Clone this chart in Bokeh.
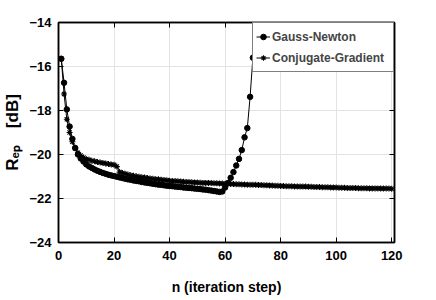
from bokeh.plotting import figure
from bokeh.models import Range1d, LinearAxis, FixedTicker, Legend
from bokeh.embed import file_html
from bokeh.resources import INLINE

# ---- data ----
gn_n = list(range(1, 72))
gn_r = [-15.65, -16.74, -17.95, -18.73, -19.29, -19.70, -20.00, -20.18, -20.32, -20.45,
        -20.54, -20.61, -20.68, -20.74, -20.79, -20.84, -20.88, -20.92, -20.95, -20.98,
        -21.01, -21.04, -21.07, -21.10, -21.13, -21.15, -21.18, -21.20, -21.22, -21.25,
        -21.27, -21.29, -21.31, -21.33, -21.35, -21.37, -21.38, -21.40, -21.42, -21.43,
        -21.44, -21.46, -21.47, -21.48, -21.50, -21.51, -21.52, -21.53, -21.55, -21.56,
        -21.57, -21.59, -21.60, -21.62, -21.64, -21.66, -21.68, -21.70, -21.68, -21.50,
        -21.30, -21.06, -20.80, -20.50, -20.20, -19.80, -19.22, -18.80, -17.38, -15.60,
        -12.00]

cg_n = list(range(1, 121))
cg_r = [-15.65, -17.25, -18.40, -19.00, -19.42, -19.72, -19.92, -20.05, -20.14, -20.20,
        -20.24, -20.28, -20.31, -20.34, -20.36, -20.39, -20.41, -20.43, -20.45, -20.47,
        -20.55, -20.80, -20.84, -20.88, -20.91, -20.94, -20.97, -20.99, -21.01, -21.03,
        -21.05, -21.07, -21.09, -21.10, -21.12, -21.13, -21.15, -21.16, -21.17, -21.19,
        -21.20, -21.21, -21.22, -21.23, -21.24, -21.25, -21.25, -21.26, -21.27, -21.27,
        -21.28, -21.29, -21.29, -21.30, -21.30, -21.31, -21.31, -21.32, -21.32, -21.33,
        -21.33, -21.34, -21.34, -21.35, -21.35, -21.36, -21.36, -21.37, -21.37, -21.38,
        -21.38, -21.39, -21.39, -21.40, -21.40, -21.41, -21.41, -21.42, -21.42, -21.43,
        -21.43, -21.44, -21.44, -21.44, -21.45, -21.45, -21.46, -21.46, -21.46, -21.47,
        -21.47, -21.48, -21.48, -21.48, -21.49, -21.49, -21.49, -21.50, -21.50, -21.50,
        -21.51, -21.51, -21.51, -21.52, -21.52, -21.52, -21.52, -21.53, -21.53, -21.53,
        -21.53, -21.54, -21.54, -21.54, -21.54, -21.55, -21.55, -21.55, -21.55, -21.56]

x_ticks = [0, 20, 40, 60, 80, 100, 120]
y_ticks = [-24, -22, -20, -18, -16, -14]
x_label = "n (iteration step)"
y_label = "R\u2091\u209a\u2003[dB]"
legend_names = ["Gauss-Newton", "Conjugate-Gradient"]

FONT = "Liberation Sans"

p = figure(width=436, height=300, output_backend="svg", toolbar_location=None,
           x_range=Range1d(0, 121), y_range=Range1d(-24, -14),
           min_border_left=57, min_border_right=42, min_border_top=22, min_border_bottom=58)

p.background_fill_color = "white"
p.border_fill_color = "white"
p.outline_line_color = "black"
p.outline_line_width = 1.5

p.xgrid.grid_line_color = "#e3e3e3"
p.ygrid.grid_line_color = "#e3e3e3"
p.xgrid.grid_line_width = 1
p.ygrid.grid_line_width = 1

for ax in (p.xaxis[0], p.yaxis[0]):
    ax.axis_line_color = "black"
    ax.axis_line_width = 1.5
    ax.major_tick_in = 5
    ax.major_tick_out = 0
    ax.minor_tick_line_color = None
    ax.major_label_text_font = FONT
    ax.major_label_text_font_style = "bold"
    ax.major_label_text_font_size = "13px"
    ax.major_label_text_color = "black"
    ax.major_tick_line_color = "black"
    ax.axis_label_text_color = "black"
    ax.axis_label_text_font = FONT
    ax.axis_label_text_font_style = "bold"

p.xaxis.ticker = FixedTicker(ticks=x_ticks)
p.yaxis.ticker = FixedTicker(ticks=y_ticks)
p.xaxis.major_label_standoff = 8
p.yaxis.major_label_standoff = 7
p.xaxis.axis_label = x_label
p.xaxis.axis_label_text_font_size = "14px"
p.xaxis.axis_label_standoff = 16
p.yaxis.axis_label = y_label
p.yaxis.axis_label_text_font_size = "17px"
p.yaxis.axis_label_standoff = 4

# box axes (top/right) with inward ticks, no labels
top = LinearAxis(ticker=FixedTicker(ticks=x_ticks),
                 major_label_overrides={t: "" for t in x_ticks},
                 major_tick_in=5, major_tick_out=0, minor_tick_line_color=None,
                 axis_line_color="black", axis_line_width=1.5, major_label_standoff=0)
right = LinearAxis(ticker=FixedTicker(ticks=y_ticks),
                   major_label_overrides={t: "" for t in y_ticks},
                   major_tick_in=5, major_tick_out=0, minor_tick_line_color=None,
                   axis_line_color="black", axis_line_width=1.5, major_label_standoff=0)
p.add_layout(top, "above")
p.add_layout(right, "right")

# series
gl = p.line(gn_n, gn_r, line_color="black", line_width=1)
gs = p.scatter(gn_n, gn_r, marker="circle", size=5.5, fill_color="black", line_color="black")
cl = p.line(cg_n, cg_r, line_color="black", line_width=1)
cs = p.scatter(cg_n, cg_r, marker="asterisk", size=6, line_color="black", line_width=1.1)

legend = Legend(items=[(legend_names[0], [gl, gs]), (legend_names[1], [cl, cs])],
                location="top_right", margin=0, padding=3, spacing=0,
                glyph_width=14, glyph_height=21, label_height=21, label_width=118,
                label_standoff=2, label_text_font=FONT, label_text_font_style="bold",
                label_text_font_size="12px", border_line_color="black",
                border_line_width=1.2, background_fill_color="white",
                background_fill_alpha=1.0)
p.add_layout(legend, "center")

open("out.html", "w").write(file_html(p, INLINE))
